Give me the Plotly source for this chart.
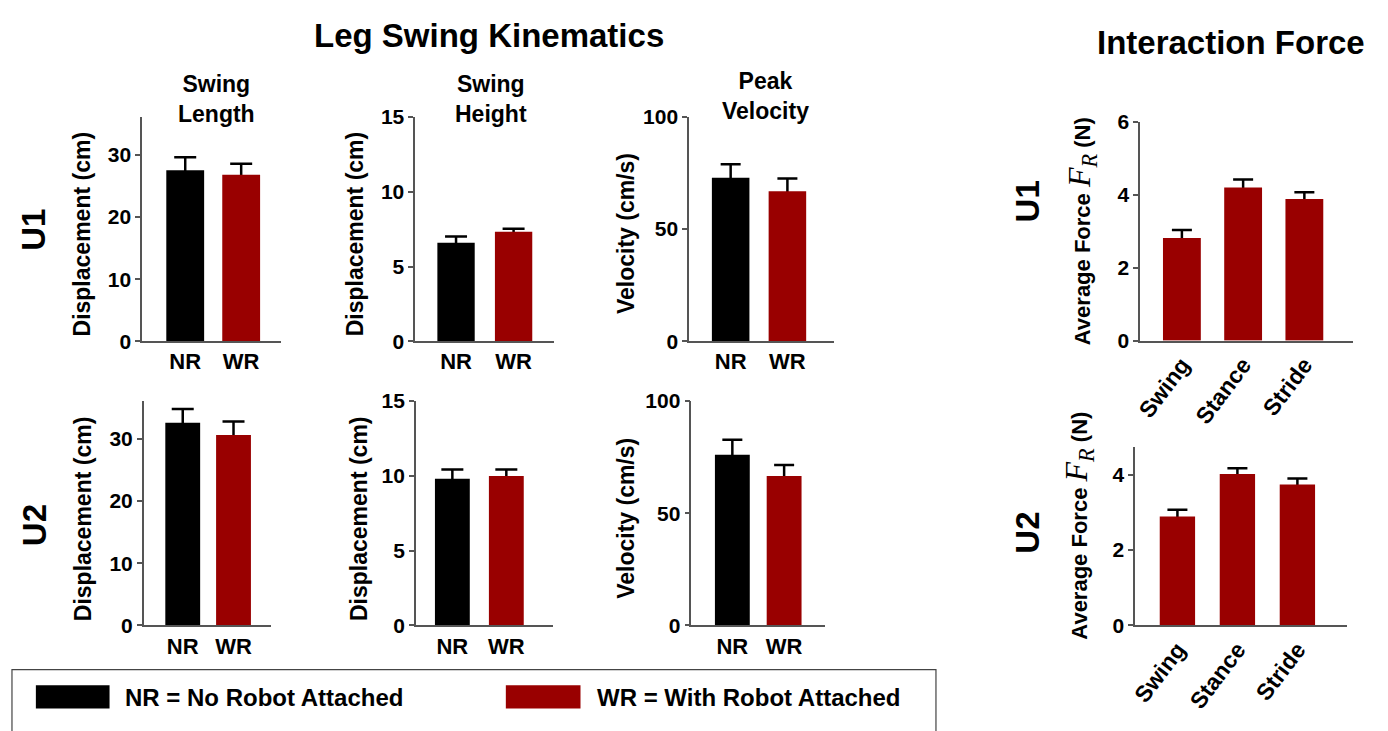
import plotly.graph_objects as go

W, H = 1388, 731

# ---------------- data ----------------
groups = ["NR", "WR"]
phases = ["Swing", "Stance", "Stride"]

u1_swing_length = [27.5, 26.8]
u1_swing_length_err = [2.1, 1.75]
u1_swing_height = [6.59, 7.32]
u1_swing_height_err = [0.41, 0.21]
u1_peak_velocity = [72.9, 66.9]
u1_peak_velocity_err = [5.95, 5.7]

u2_swing_length = [32.6, 30.6]
u2_swing_length_err = [2.2, 2.2]
u2_swing_height = [9.8, 9.99]
u2_swing_height_err = [0.63, 0.44]
u2_peak_velocity = [76.1, 66.6]
u2_peak_velocity_err = [6.6, 4.9]

u1_force = [2.81, 4.20, 3.88]
u1_force_err = [0.22, 0.22, 0.19]
u2_force = [2.89, 4.02, 3.74]
u2_force_err = [0.18, 0.15, 0.16]

BLACK = "#000000"
RED = "#990000"
AXC = "#555555"
FONT = "Liberation Sans, Arial, sans-serif"

# ---------------- panel geometry (pixels) ----------------
panels = [
    dict(x=groups, y=u1_swing_length, e=u1_swing_length_err, c=[BLACK, RED],
         px=(136.7, 275.7), cen=(180.0, 236.2), bw=38, py=(108.3, 340.0), yr=36.1, tv=[0, 10, 20, 30], cap=11),
    dict(x=groups, y=u1_swing_height, e=u1_swing_height_err, c=[BLACK, RED],
         px=(411.0, 550.0), cen=(452.0, 509.8), bw=37.5, py=(108.3, 340.0), yr=15, tv=[0, 5, 10, 15], cap=11),
    dict(x=groups, y=u1_peak_velocity, e=u1_peak_velocity_err, c=[BLACK, RED],
         px=(686.0, 832.0), cen=(727.8, 784.8), bw=37.7, py=(108.3, 340.0), yr=100, tv=[0, 50, 100], cap=10),
    dict(x=groups, y=u2_swing_length, e=u2_swing_length_err, c=[BLACK, RED],
         px=(138.3, 265.7), cen=(177.5, 228.5), bw=35, py=(401.7, 633.3), yr=36.07, tv=[0, 10, 20, 30], cap=11),
    dict(x=groups, y=u2_swing_height, e=u2_swing_height_err, c=[BLACK, RED],
         px=(411.7, 549.2), cen=(448.3, 502.5), bw=35, py=(401.7, 633.3), yr=15, tv=[0, 5, 10, 15], cap=11),
    dict(x=groups, y=u2_peak_velocity, e=u2_peak_velocity_err, c=[BLACK, RED],
         px=(688.3, 822.3), cen=(729.5, 781.5), bw=35, py=(401.7, 633.3), yr=100, tv=[0, 50, 100], cap=10),
    dict(x=phases, y=u1_force, e=u1_force_err, c=[RED, RED, RED],
         px=(1139.0, 1353.3), cen=(1181.0, 1304.0), bw=38, py=(113.3, 339.3), yr=6, tv=[0, 2, 4, 6], cap=10, rot=True),
    dict(x=phases, y=u2_force, e=u2_force_err, c=[RED, RED, RED],
         px=(1134.0, 1346.7), cen=(1176.5, 1297.0), bw=35.5, py=(449.3, 633.3), yr=4.73, tv=[0, 2, 4], cap=10, rot=True),
]

fig = go.Figure()
layout = dict(
    width=W, height=H, margin=dict(l=0, r=0, t=0, b=0),
    paper_bgcolor="white", plot_bgcolor="white", showlegend=False,
    barmode="overlay", font=dict(family=FONT, color="black"),
)

for i, p in enumerate(panels, start=1):
    xa = "x" if i == 1 else f"x{i}"
    ya = "y" if i == 1 else f"y{i}"
    n = len(p["x"])
    unit = (p["cen"][1] - p["cen"][0]) / (n - 1)
    width_u = p["bw"] / unit
    # error bars first; their lower half is hidden by the opaque bars drawn next
    fig.add_trace(go.Bar(
        x=p["x"], y=p["y"], xaxis=xa, yaxis=ya, width=width_u,
        marker=dict(color="rgba(0,0,0,0)", line=dict(width=0)),
        error_y=dict(type="data", array=p["e"], symmetric=True, color="black",
                     thickness=2.5, width=p["cap"]),
        hoverinfo="skip",
    ))
    fig.add_trace(go.Bar(
        x=p["x"], y=p["y"], xaxis=xa, yaxis=ya, width=width_u,
        marker=dict(color=p["c"], line=dict(width=0)),
    ))
    x0, x1 = p["px"]
    rng = [-(p["cen"][0] - x0) / unit, (n - 1) + (x1 - p["cen"][1]) / unit]
    yt, yb = p["py"]
    layout["xaxis" if i == 1 else f"xaxis{i}"] = dict(
        domain=[x0 / W, x1 / W], anchor=ya, range=rng, type="category",
        showline=True, linecolor=AXC, linewidth=1.5, ticks="",
        showgrid=False, zeroline=False, fixedrange=True,
        tickangle=-53 if p.get("rot") else 0,
        tickfont=dict(family=FONT, size=23 if p.get("rot") else 22, color="black", weight="bold"),
    )
    layout["yaxis" if i == 1 else f"yaxis{i}"] = dict(
        domain=[1 - yb / H, 1 - yt / H], anchor=xa, range=[0, p["yr"]],
        tickvals=p["tv"], showline=True, linecolor=AXC, linewidth=1.5,
        ticks="outside", ticklen=5, tickcolor=AXC, tickwidth=1.5,
        showgrid=False, zeroline=False, fixedrange=True,
        tickfont=dict(family=FONT, size=21, color="black", weight="bold"),
    )

ann = []


def text(x, y, s, size, angle=0, xanchor="center"):
    ann.append(dict(x=x / W, y=1 - y / H, xref="paper", yref="paper", text=s,
                    showarrow=False, textangle=angle, xanchor=xanchor, yanchor="middle",
                    font=dict(family=FONT, size=size, color="black", weight="bold")))


# main titles
text(485, 24, "Leg Swing Kinematics", 33)
text(1230, 32, "Interaction Force", 33)
# panel titles
text(211, 90, "Swing<br>Length", 23)
text(487, 90, "Swing<br>Height", 23)
text(763, 87, "Peak<br>Velocity", 23)
# row labels
text(28, 225, "U1", 33, -90)
text(28, 530, "U2", 33, -90)
text(1026, 196, "U1", 33, -90)
text(1026, 538, "U2", 33, -90)
# axis titles
text(76, 229, "Displacement (cm)", 23, -90)
text(350, 229, "Displacement (cm)", 23, -90)
text(622, 229, "Velocity (cm/s)", 23, -90)
text(77, 523, "Displacement (cm)", 23, -90)
text(354, 523, "Displacement (cm)", 23, -90)
text(622, 523, "Velocity (cm/s)", 23, -90)
fr = ('Average Force <span style="font-family:Liberation Serif;font-weight:normal;font-size:32px">'
      '<i>F</i><sub><i>R</i></sub></span> (N)')
text(1081, 226, fr, 22, -90)
text(1077, 530, fr, 22, -90)

# legend
text(118, 708, "NR = No Robot Attached", 24, 0, "left")
text(592, 708, "WR = With Robot Attached", 24, 0, "left")

shapes = [
    dict(type="rect", xref="paper", yref="paper", x0=6 / W, x1=934 / W, y0=-0.05, y1=1 - 679 / H,
         line=dict(color="#444444", width=1.2), fillcolor="rgba(0,0,0,0)"),
    dict(type="rect", xref="paper", yref="paper", x0=30 / W, x1=104 / W, y0=1 - 719 / H, y1=1 - 695 / H,
         line=dict(width=0), fillcolor=BLACK),
    dict(type="rect", xref="paper", yref="paper", x0=502 / W, x1=577 / W, y0=1 - 719 / H, y1=1 - 695 / H,
         line=dict(width=0), fillcolor=RED),
]

layout["annotations"] = ann
layout["shapes"] = shapes
fig.update_layout(**layout)
fig.write_html("out.html")
